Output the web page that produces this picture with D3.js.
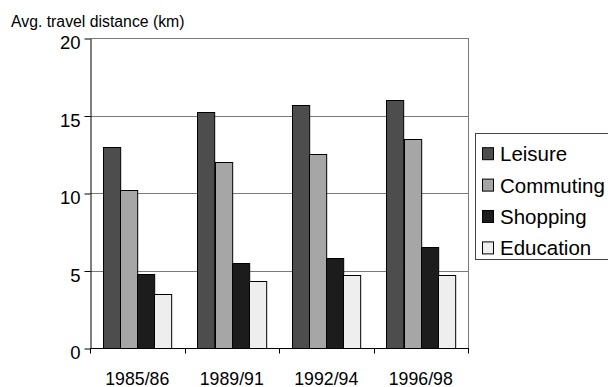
<!DOCTYPE html>
<html>
<head>
<meta charset="utf-8">
<script src="https://cdn.jsdelivr.net/npm/d3@7"></script>
<style>
  html, body { margin: 0; padding: 0; background: #fff; }
  svg { display: block; font-family: "Liberation Sans", Arial, sans-serif; }
</style>
</head>
<body>
<svg id="chart" width="608" height="387"></svg>
<script>
// Average travel distance by trip purpose, per survey period
const periods = ["1985/86", "1989/91", "1992/94", "1996/98"];
const purposes = ["Leisure", "Commuting", "Shopping", "Education"];
const leisure   = [13.0, 15.2, 15.7, 16.0];
const commuting = [10.2, 12.0, 12.5, 13.5];
const shopping  = [4.8, 5.5, 5.8, 6.5];
const education = [3.5, 4.3, 4.7, 4.7];
const yTicks = [0, 5, 10, 15, 20];

const seriesValues = [leisure, commuting, shopping, education];
const colors = ["#4d4d4d", "#a6a6a6", "#1c1c1c", "#eeeeee"];

const svg = d3.select("#chart");
const plot = { left: 90, right: 468, top: 38, bottom: 348 };

const x = d3.scaleBand().domain(periods).range([plot.left, plot.right]).paddingInner(0).paddingOuter(0);
// gap between groups is 1.5 bar widths: 4 bars + 1.5 = 5.5 widths per band
const inner = d3.scaleBand().domain(purposes)
  .range([0, x.bandwidth() * 4 / 5.5]);
const groupOffset = x.bandwidth() * 0.75 / 5.5;
const y = d3.scaleLinear().domain([0, 20]).range([plot.bottom, plot.top]);

// grid lines
svg.append("g").selectAll("line")
  .data(yTicks.filter(d => d > 0))
  .join("line")
  .attr("x1", plot.left).attr("x2", plot.right)
  .attr("y1", d => Math.round(y(d)) + 0.5).attr("y2", d => Math.round(y(d)) + 0.5)
  .attr("stroke", "#7a7a7a").attr("stroke-width", 1);

// right border of plot area
svg.append("line")
  .attr("x1", plot.right + 0.5).attr("x2", plot.right + 0.5)
  .attr("y1", plot.top).attr("y2", plot.bottom)
  .attr("stroke", "#7a7a7a");

// bars
const rows = [];
periods.forEach((p, i) => {
  purposes.forEach((s, j) => rows.push({ period: p, purpose: s, value: seriesValues[j][i], color: colors[j] }));
});
svg.append("g").selectAll("rect")
  .data(rows)
  .join("rect")
  .attr("x", d => Math.round(x(d.period) + groupOffset + inner(d.purpose)) + 0.5)
  .attr("y", d => Math.round(y(d.value)) + 0.5)
  .attr("width", inner.bandwidth())
  .attr("height", d => Math.round(y(0)) - Math.round(y(d.value)))
  .attr("fill", d => d.color)
  .attr("stroke", "#000")
  .attr("stroke-width", 1);

// y axis
const yAxis = d3.axisLeft(y).tickValues(yTicks).tickSize(6).tickPadding(4).tickSizeOuter(0);
const gy = svg.append("g").attr("transform", `translate(${plot.left + 0.5},0.5)`).call(yAxis);
gy.select(".domain").attr("stroke", "#000");
gy.selectAll(".tick line").attr("stroke", "#000");
gy.selectAll(".tick text")
  .attr("font-size", 18.5).attr("fill", "#000")
  .attr("font-family", "Liberation Sans, Arial, sans-serif")
  .attr("dy", "0.72em").attr("y", -3);

// x axis with ticks at band boundaries
const gx = svg.append("g").attr("transform", `translate(0,${plot.bottom + 0.5})`);
gx.append("line")
  .attr("x1", plot.left).attr("x2", plot.right + 1)
  .attr("stroke", "#000");
const bounds = periods.map(p => x(p)).concat([plot.right]);
gx.selectAll("line.tick").data(bounds).join("line")
  .attr("class", "tick")
  .attr("x1", d => Math.round(d) + 0.5).attr("x2", d => Math.round(d) + 0.5)
  .attr("y1", 0).attr("y2", 5)
  .attr("stroke", "#000");
gx.selectAll("text").data(periods).join("text")
  .attr("x", d => x(d) + x.bandwidth() / 2)
  .attr("y", 36)
  .attr("text-anchor", "middle")
  .attr("font-size", 17.7)
  .attr("fill", "#000")
  .text(d => d);

// axis title
svg.append("text")
  .attr("x", 11).attr("y", 26.5)
  .attr("font-size", 15.8)
  .attr("fill", "#000")
  .text("Avg. travel distance (km)");

// legend
const legend = svg.append("g");
legend.append("rect")
  .attr("x", 475.5).attr("y", 133.5)
  .attr("width", 160).attr("height", 126)
  .attr("fill", "#fff").attr("stroke", "#444");
const items = legend.selectAll("g.item").data(purposes).join("g")
  .attr("class", "item")
  .attr("transform", (d, i) => `translate(0,${153.7 + i * 31.4})`);
items.append("rect")
  .attr("x", 482.5).attr("y", -6)
  .attr("width", 11).attr("height", 12)
  .attr("fill", (d, i) => colors[i])
  .attr("stroke", "#000");
items.append("text")
  .attr("x", 500).attr("y", 7.4)
  .attr("font-size", 20.5)
  .attr("fill", "#000")
  .text(d => d);
</script>
</body>
</html>
